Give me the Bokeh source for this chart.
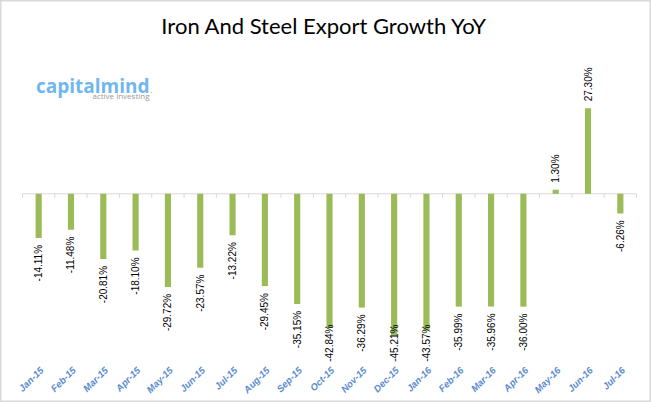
import numpy as np
from bokeh.plotting import figure
from bokeh.models import ColumnDataSource, Range1d
from bokeh.core.properties import value
from bokeh.embed import file_html
from bokeh.resources import INLINE

# ---- data ----
months = ["Jan-15", "Feb-15", "Mar-15", "Apr-15", "May-15", "Jun-15", "Jul-15",
          "Aug-15", "Sep-15", "Oct-15", "Nov-15", "Dec-15", "Jan-16", "Feb-16",
          "Mar-16", "Apr-16", "May-16", "Jun-16", "Jul-16"]
growth = [-14.11, -11.48, -20.81, -18.10, -29.72, -23.57, -13.22, -29.45, -35.15,
          -42.84, -36.29, -45.21, -43.57, -35.99, -35.96, -36.00, 1.30, 27.30, -6.26]
title_text = "Iron And Steel Export Growth YoY"

# ---- styling ----
BAR = "#9bbb59"
AXIS_COL = "#d9d9d9"
CAT_COL = "#5b8bd0"

n = len(months)
pos = np.arange(n)
cw = 614 / n  # px per category
p = figure(width=651, height=402,
           x_range=Range1d(-0.5 - 22 / cw, n - 0.5 + 15 / cw),
           y_range=Range1d(-66.57, 61.66), output_backend="svg",
           toolbar_location=None, min_border_left=0, min_border_right=0,
           min_border_top=0, min_border_bottom=0)
p.outline_line_color = "#d9d9d9"
p.outline_line_width = 2
p.axis.visible = False
p.xgrid.visible = False
p.ygrid.visible = False
p.background_fill_color = "white"
p.border_fill_color = "white"

vals = np.array(growth)
labels = [f"{v:.2f}%" for v in growth]

# zero line and tick marks at category boundaries
p.segment(x0=[-0.5], y0=[0], x1=[n - 0.5], y1=[0], line_color=AXIS_COL, line_width=1)
bounds = np.arange(n + 1) - 0.5
p.segment(x0=bounds, y0=np.zeros(n + 1), x1=bounds, y1=np.full(n + 1, -1.3),
          line_color=AXIS_COL, line_width=1)

# bars
src = ColumnDataSource(dict(x=pos, v=growth, lab=labels, m=months))
p.vbar(x="x", top="v", bottom=0, width=0.19, source=src, fill_color=BAR,
       line_color=None)

# data labels
gap = 2.2
neg = vals < 0
neg_src = ColumnDataSource(dict(
    x=pos[neg], y=np.maximum(vals[neg] - gap, -41.7),
    lab=[l for l, k in zip(labels, neg) if k]))
pos_src = ColumnDataSource(dict(
    x=pos[~neg], y=vals[~neg] + gap,
    lab=[l for l, k in zip(labels, neg) if not k]))
p.text(x="x", y="y", text="lab", source=neg_src, angle=np.pi / 2,
       text_align="right", text_baseline="middle",
       text_font=value("Liberation Sans"), text_font_size="10px",
       text_color="#000000")
p.text(x="x", y="y", text="lab", source=pos_src, angle=np.pi / 2,
       text_align="left", text_baseline="middle",
       text_font=value("Liberation Sans"), text_font_size="10px",
       text_color="#000000")

# category labels (rotated)
cat_src = ColumnDataSource(dict(x=pos, y=np.full(n, -55.7), m=months))
p.text(x="x", y="y", text="m", source=cat_src, angle=np.pi / 4,
       x_offset=3, text_align="right", text_baseline="middle",
       text_font=value("Liberation Sans"), text_font_size="9.5px",
       text_font_style="bold italic", text_color=CAT_COL)

# title
p.text(x=[(324 - 22) / cw - 0.5], y=[53.7], text=[title_text],
       text_align="center", text_baseline="middle",
       text_font=value("Lato"), text_font_size="22px", text_color="#000000")

# logo
lx = (149 - 22) / cw - 0.5
p.text(x=[lx], y=[34.5], text=["capitalmind"], text_align="right",
       text_baseline="middle", text_font=value("Open Sans"),
       text_font_style="bold", text_font_size="19px", text_color="#70b7f0")
p.text(x=[lx + 0.02], y=[33.2], text=["."], text_align="left",
       text_baseline="middle", text_font=value("Open Sans"),
       text_font_size="9px", text_color="#9bbb59")
p.text(x=[lx], y=[31.5], text=["active investing"], text_align="right",
       text_baseline="middle", text_font=value("Open Sans"),
       text_font_size="8px", text_color="#999999")

open("out.html", "w").write(file_html(p, INLINE))
